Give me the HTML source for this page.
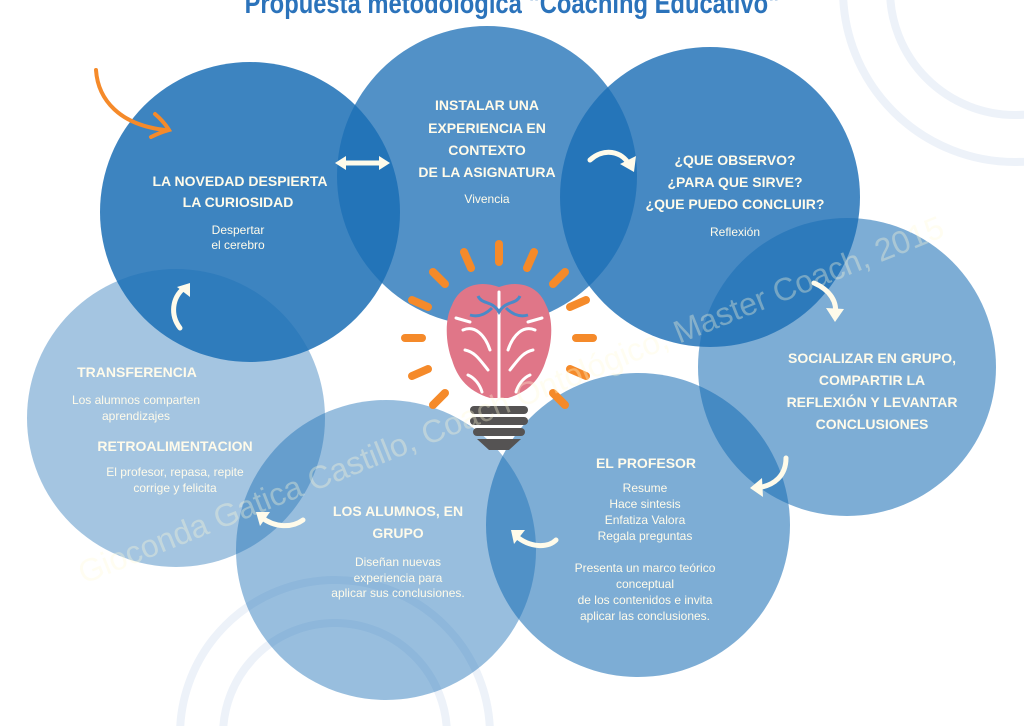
<!DOCTYPE html>
<html><head><meta charset="utf-8"><style>
html,body{margin:0;padding:0;background:#fff;width:1024px;height:726px;overflow:hidden;}
svg{display:block;}
text{font-family:"Liberation Sans",sans-serif;fill:#fffbea;text-anchor:middle;}
.b{font-weight:bold;font-size:14px;}
.s{font-size:12px;}
</style></head><body>
<svg width="1024" height="726" viewBox="0 0 1024 726" xmlns="http://www.w3.org/2000/svg">
<g fill="none" stroke="#edf2f9" stroke-width="8">
<circle cx="1015" cy="-10" r="172"/>
<circle cx="1015" cy="-10" r="125"/>
<circle cx="335" cy="735" r="155"/>
<circle cx="335" cy="735" r="112"/>
</g>
<text x="512" y="13" style="font-weight:bold;font-size:29px;fill:#2b73bb" transform="translate(512,0) scale(0.82,1) translate(-512,0)">Propuesta metodologica "Coaching Educativo"</text>
<g fill="rgb(27,110,181)">
<circle cx="176" cy="418" r="149" fill-opacity="0.4"/>
<circle cx="386" cy="550" r="150" fill-opacity="0.45"/>
<circle cx="638" cy="525" r="152" fill-opacity="0.57"/>
<circle cx="847" cy="367" r="149" fill-opacity="0.57"/>
<circle cx="710" cy="197" r="150" fill-opacity="0.81"/>
<circle cx="487" cy="176" r="150" fill-opacity="0.76"/>
<circle cx="250" cy="212" r="150" fill-opacity="0.85"/>
</g>
<g stroke="#f58a2a" stroke-width="8" stroke-linecap="round">
<line x1="499" y1="244" x2="499" y2="262"/>
<line x1="464" y1="252" x2="471" y2="268"/>
<line x1="534" y1="252" x2="527" y2="268"/>
<line x1="433" y1="272" x2="445" y2="284"/>
<line x1="565" y1="272" x2="553" y2="284"/>
<line x1="412" y1="300" x2="428" y2="307"/>
<line x1="586" y1="300" x2="570" y2="307"/>
<line x1="405" y1="338" x2="422" y2="338"/>
<line x1="593" y1="338" x2="576" y2="338"/>
<line x1="412" y1="376" x2="428" y2="369"/>
<line x1="586" y1="376" x2="570" y2="369"/>
<line x1="433" y1="405" x2="445" y2="393"/>
<line x1="565" y1="405" x2="553" y2="393"/>
</g>
<path d="M499 287 C480 280 460 285 452 305 C444 320 446 345 452 360 C458 380 470 392 490 398 L508 398 C528 392 540 380 546 360 C552 345 554 320 546 305 C538 285 518 280 499 287 Z" fill="#e07688"/>
<g fill="none" stroke="#fff" stroke-width="3" stroke-linecap="round">
<line x1="499" y1="292" x2="499" y2="398"/>
<path d="M463 330 C475 325 485 335 490 350 M465 350 C475 352 480 360 488 370 M468 375 C475 378 480 385 482 392 M535 330 C523 325 513 335 508 350 M533 350 C523 352 518 360 510 370 M530 375 C523 378 518 385 516 392 M456 318 L470 322 M542 318 L528 322"/>
</g>
<g fill="none" stroke="#4a8ac8" stroke-width="3">
<path d="M478 296 C482 305 492 300 499 312 C506 300 516 305 520 296 M470 315 C480 318 488 312 492 308 M528 315 C518 318 510 312 506 308"/>
</g>
<g fill="#555353">
<rect x="470" y="406" width="58" height="8" rx="4"/>
<rect x="470" y="417" width="58" height="8" rx="4"/>
<rect x="473" y="428" width="52" height="8" rx="4"/>
<polygon points="477,439 521,439 509,450 489,450"/>
</g>
<text x="515" y="410" transform="rotate(-22 515 410)" style="font-size:32px;fill:rgba(255,250,215,0.35)">Gioconda Gatica Castillo, Coach Ontológico, Master Coach, 2015</text>
<g fill="none" stroke="#fffbea" stroke-width="5" stroke-linecap="round">
<line x1="340" y1="163" x2="385" y2="163"/>
<path d="M590 160 C603 148 622 150 630 166"/>
<path d="M814 283 C830 290 838 302 835 316"/>
<path d="M786 458 C786 475 775 486 756 488"/>
<path d="M556 540 C548 548 530 548 516 536"/>
<path d="M303 520 C292 528 275 528 261 517"/>
<path d="M180 328 C170 315 172 298 184 288"/>
</g>
<g fill="#fffbea">
<polygon points="335,163 346,156 346,170"/>
<polygon points="390,163 379,156 379,170"/>
<polygon points="634,172 620,164 636,156"/>
<polygon points="835,322 826,308 844,309"/>
<polygon points="750,488 762,478 763,497"/>
<polygon points="511,530 525,530 514,544"/>
<polygon points="256,512 270,512 260,526"/>
<polygon points="190,283 177,287 190,297"/>
</g>
<path d="M96 70 C98 100 120 125 165 130" fill="none" stroke="#f58a2a" stroke-width="4" stroke-linecap="round"/>
<path d="M155 114 C162 120 166 125 169 130 C162 132 157 134 151 137" fill="none" stroke="#f58a2a" stroke-width="4" stroke-linecap="round"/>
<text class="b" x="240" y="186">LA NOVEDAD DESPIERTA</text>
<text class="b" x="238" y="207">LA CURIOSIDAD</text>
<text class="s" x="238" y="234">Despertar</text>
<text class="s" x="238" y="249">el cerebro</text>
<text class="b" x="487" y="110">INSTALAR UNA</text>
<text class="b" x="487" y="133">EXPERIENCIA EN</text>
<text class="b" x="487" y="155">CONTEXTO</text>
<text class="b" x="487" y="177">DE LA ASIGNATURA</text>
<text class="s" x="487" y="203">Vivencia</text>
<text class="b" x="735" y="165">¿QUE OBSERVO?</text>
<text class="b" x="735" y="187">¿PARA QUE SIRVE?</text>
<text class="b" x="735" y="209">¿QUE PUEDO CONCLUIR?</text>
<text class="s" x="735" y="236">Reflexión</text>
<text class="b" x="872" y="363">SOCIALIZAR EN GRUPO,</text>
<text class="b" x="872" y="385">COMPARTIR LA</text>
<text class="b" x="872" y="407">REFLEXIÓN Y LEVANTAR</text>
<text class="b" x="872" y="429">CONCLUSIONES</text>
<text class="b" x="646" y="468">EL PROFESOR</text>
<text class="s" x="645" y="492">Resume</text>
<text class="s" x="645" y="508">Hace sintesis</text>
<text class="s" x="645" y="524">Enfatiza  Valora</text>
<text class="s" x="645" y="540">Regala preguntas</text>
<text class="s" x="645" y="572">Presenta un marco teórico</text>
<text class="s" x="645" y="588">conceptual</text>
<text class="s" x="645" y="604">de los contenidos e invita</text>
<text class="s" x="645" y="620">aplicar las conclusiones.</text>
<text class="b" x="398" y="516">LOS ALUMNOS,  EN</text>
<text class="b" x="398" y="538">GRUPO</text>
<text class="s" x="398" y="566">Diseñan nuevas</text>
<text class="s" x="398" y="582">experiencia para</text>
<text class="s" x="398" y="597">aplicar sus conclusiones.</text>
<text class="b" x="137" y="377">TRANSFERENCIA</text>
<text class="s" x="136" y="404">Los alumnos comparten</text>
<text class="s" x="136" y="420">aprendizajes</text>
<text class="b" x="175" y="451">RETROALIMENTACION</text>
<text class="s" x="175" y="476">El profesor, repasa, repite</text>
<text class="s" x="175" y="492">corrige y felicita</text>
</svg>
</body></html>
